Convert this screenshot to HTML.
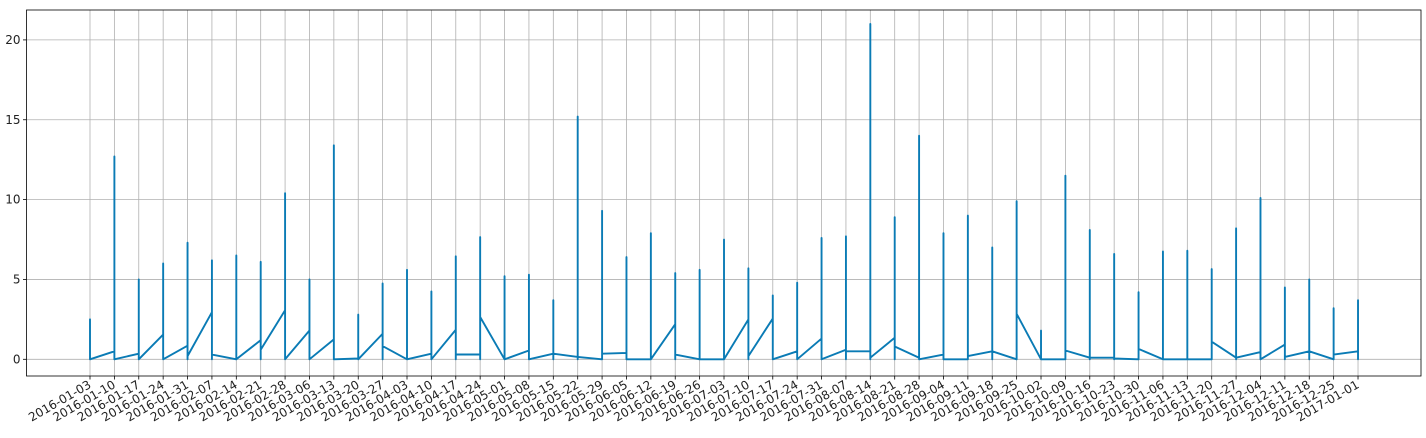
<!DOCTYPE html>
<html><head><meta charset="utf-8"><style>
body{margin:0;background:#fff;width:1426px;height:433px;overflow:hidden}
svg text{font-family:"DejaVu Sans","Liberation Sans",sans-serif;font-size:12px;fill:#222}
</style></head><body>
<svg id="chart" width="1426" height="433" xmlns="http://www.w3.org/2000/svg"></svg>
<script>
const arriveVals=[0,0.5,0.35,1.55,0.85,2.95,0,1.2,3.07,1.8,1.25,0.05,1.6,0,0.35,1.85,0.3,0,0.55,0.35,0.15,0,0.4,0,2.2,0,0,2.5,2.55,0.5,1.3,0.6,0.5,1.35,0.1,0.3,0,0.5,0,0,0,0.1,0.1,0,0,0,0,0.1,0.45,0.92,0.5,0,0.5];
const peakVals=[2.5,12.7,5.0,6.0,7.3,6.2,6.5,6.1,10.4,5.0,13.4,2.8,4.75,5.6,4.25,6.45,7.65,5.2,5.3,3.7,15.2,9.3,6.4,7.9,5.4,5.6,7.5,5.7,4.0,4.8,7.6,7.7,21.0,8.9,14.0,7.9,9.0,7.0,9.9,1.8,11.5,8.1,6.6,4.2,6.75,6.8,5.65,8.2,10.1,4.5,5.0,3.2,3.7];
const departVals=[0,0,0,0,0.2,0.3,0,0.6,0,0,0,0,0.83,0,0,0.3,2.65,0,0,0.35,0.15,0.35,0,0,0.3,0,0,0.2,0,0,0,0.5,0.1,0.8,0,0,0.2,0.5,2.85,0,0.55,0.1,0.05,0.65,0,0,1.1,0.1,0,0.15,0.5,0.3,0.5];
const yTicks=[0,5,10,15,20];
const NS="http://www.w3.org/2000/svg";
const svg=document.getElementById('chart');
const L=26.5,R=1421,T=10,B=376;
const x0=90,dx=24.385;
function xs(i){return x0+dx*i;}
function ys(v){return 359.3-v*15.97;}
function mk(t,a){const e=document.createElementNS(NS,t);for(const k in a)e.setAttribute(k,a[k]);svg.appendChild(e);return e;}
const start=new Date(Date.UTC(2016,0,3));
const labels=[];
for(let i=0;i<53;i++){const d=new Date(start.getTime()+i*7*864e5);labels.push(d.toISOString().slice(0,10));}
for(let i=0;i<labels.length;i++){
  const g=mk('line',{x1:xs(i),x2:xs(i),y1:T,y2:B,stroke:'#b0b0b0','stroke-width':0.8});
  
  
}
for(const v of yTicks){
  const g=mk('line',{x1:L,x2:R,y1:ys(v),y2:ys(v),stroke:'#b0b0b0','stroke-width':0.8});
  
  
  const tk=mk('line',{x1:L-3.5,x2:L,y1:ys(v),y2:ys(v),stroke:'#000','stroke-width':0.8});
  
  
  const t=mk('text',{x:L-6,y:ys(v)+4,'text-anchor':'end'});
  t.textContent=v;
  
  
}
let d='';
for(let i=0;i<peakVals.length;i++){
  const x=xs(i).toFixed(2);
  d+=(i?'L':'M')+x+','+ys(arriveVals[i]).toFixed(2);
  d+='L'+x+','+ys(Math.min(arriveVals[i],departVals[i],0)).toFixed(2);
  d+='L'+x+','+ys(peakVals[i]).toFixed(2);
  d+='L'+x+','+ys(departVals[i]).toFixed(2);
}
const p=mk('path',{d:d,fill:'none',stroke:'#0a7bb5','stroke-width':1.9,'stroke-linejoin':'round'});


for(let i=0;i<labels.length;i++){
  const tk=mk('line',{x1:xs(i),x2:xs(i),y1:B,y2:B+3.5,stroke:'#000','stroke-width':0.8});
  
  
  const t=mk('text',{x:xs(i)+2,y:B+11,'text-anchor':'end',transform:'rotate(-30 '+(xs(i)+2)+' '+(B+11)+')'});
  t.textContent=labels[i];
  
  
}
const fr=mk('rect',{x:L,y:T,width:R-L,height:B-T,fill:'none',stroke:'#000','stroke-width':0.8});


</script>
</body></html>
